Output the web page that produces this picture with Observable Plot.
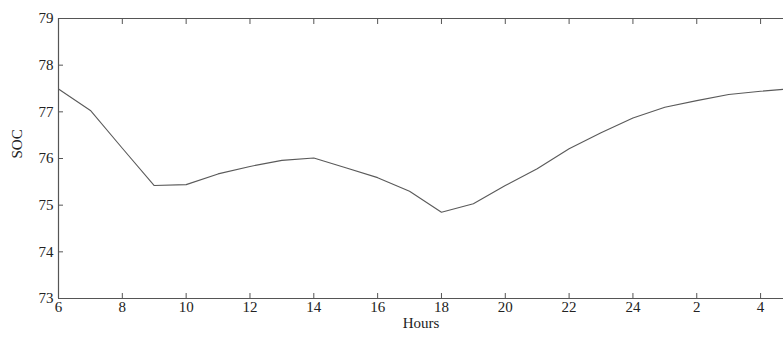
<!DOCTYPE html>
<html><head><meta charset="utf-8">
<script src="https://cdn.jsdelivr.net/npm/d3@7"></script>
<script src="https://cdn.jsdelivr.net/npm/@observablehq/plot@0.6"></script>
<style>
html,body{margin:0;padding:0;background:#fff;overflow:hidden;}
svg{font-family:"Liberation Serif","DejaVu Serif",serif;}
</style></head>
<body><div id="chart"></div>
<script>
const hours = [6,7,8,9,10,11,12,13,14,15,16,17,18,19,20,21,22,23,24,1,2,3,4,5];
const soc = [77.49,77.03,76.22,75.42,75.44,75.67,75.83,75.96,76.01,75.80,75.59,75.30,74.85,75.03,75.42,75.78,76.21,76.55,76.87,77.10,77.24,77.37,77.44,77.50];
const xTickIdx = [0,2,4,6,8,10,12,14,16,18,20,22];
const xTickLabels = ["6","8","10","12","14","16","18","20","22","24","2","4"];
const yTicks = [73,74,75,76,77,78,79];

const data = hours.map((h,i)=>({i, h, soc: soc[i]}));
const ax = "#555";
const blank = () => "";
const chart = Plot.plot({
  width: 783, height: 339,
  marginLeft: 58, marginTop: 18, marginBottom: 41, marginRight: 0,
  style: {fontFamily: '"Liberation Serif", serif', fontSize: "15px", color: "#333", background: "#fff"},
  x: {domain: [0, 23], range: [58, 792], axis: null},
  y: {domain: [73, 79], axis: null},
  marks: [
    Plot.ruleY([73, 79], {stroke: ax, strokeWidth: 1.2}),
    Plot.ruleX([0], {stroke: ax, strokeWidth: 1.2}),
    Plot.axisX({anchor: "bottom", ticks: xTickIdx, tickSize: -5, tickFormat: blank, stroke: ax, label: null}),
    Plot.axisX({anchor: "top", ticks: xTickIdx, tickSize: -5, tickFormat: blank, stroke: ax, label: null}),
    Plot.axisX({anchor: "bottom", ticks: xTickIdx, tickSize: 0, tickPadding: 3,
      tickFormat: d => xTickLabels[xTickIdx.indexOf(d)], label: null, fill: "#222"}),
    Plot.axisY({anchor: "left", ticks: yTicks, tickSize: -5, tickFormat: blank, stroke: ax, label: null}),
    Plot.axisY({anchor: "left", ticks: yTicks, tickSize: 0, tickPadding: 5, tickFormat: d => String(d),
      label: null, fill: "#222"}),
    Plot.text(["Hours"], {frameAnchor: "bottom", dy: 29, fill: "#222", fontSize: 15}),
    Plot.text(["SOC"], {frameAnchor: "left", dx: -41, dy: 0, rotate: -90, fill: "#222", fontSize: 15}),
    Plot.line(data, {x: "i", y: "soc", stroke: "#5a5a5a", strokeWidth: 1.1, clip: true})
  ]
});
document.getElementById("chart").appendChild(chart);
</script></body></html>
